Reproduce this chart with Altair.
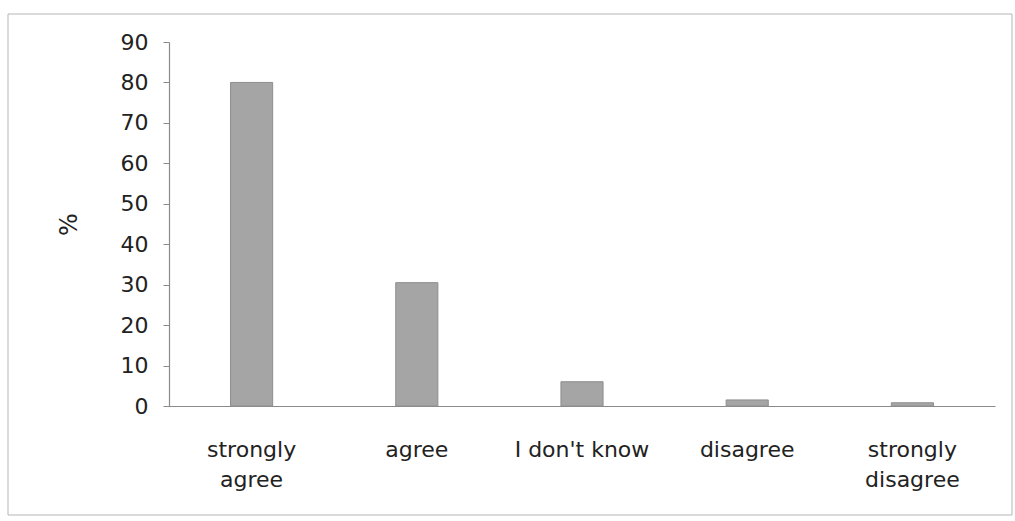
import altair as alt
import pandas as pd

categories = ["strongly agree", "agree", "I don't know", "disagree", "strongly disagree"]
values = [80, 30.5, 6, 1.5, 0.8]
y_ticks = [0, 10, 20, 30, 40, 50, 60, 70, 80, 90]

df = pd.DataFrame({"answer": categories, "pct": values})

FONT = "DejaVu Sans"
W, H = 826, 364

bars = alt.Chart(df).mark_bar(color="#a5a5a5", stroke="#8e8e8e", strokeWidth=1).encode(
    x=alt.X("answer:N", sort=categories, title=None,
            scale=alt.Scale(paddingInner=0.745, paddingOuter=0.3725),
            axis=alt.Axis(labelAngle=0, ticks=False, domainColor="#8a8a8a", domainWidth=1.2,
                          labelFont=FONT, labelFontSize=22, labelColor="#222222",
                          labelBaseline="top", labelPadding=33, labelLineHeight=30,
                          labelLimit=200,
                          labelExpr="indexof(datum.label, 'strongly') == 0 ? split(datum.label, ' ') : datum.label")),
    y=alt.Y("pct:Q", title="%",
            scale=alt.Scale(domain=[0, 90], nice=False),
            axis=alt.Axis(values=y_ticks, grid=False, domainColor="#8a8a8a", domainWidth=1.2,
                          tickColor="#8a8a8a", tickSize=6, labelPadding=15,
                          labelFont=FONT, labelFontSize=22, labelColor="#222222",
                          titleFont=FONT, titleFontSize=24, titleFontWeight="normal",
                          titleColor="#222222", titleX=-88, titleY=182, titleAngle=270)),
)

border_df = pd.DataFrame({"k": [0]})
border = alt.Chart(border_df).mark_rect(fill=None, stroke="#b5b5b5", strokeWidth=1).encode(
    x=alt.value(-161), x2=alt.value(843), y=alt.value(-28), y2=alt.value(473)
)

chart = alt.layer(border, bars).properties(
    width=W, height=H,
    padding={"left": 169, "top": 42, "right": 20, "bottom": 115},
    autosize=alt.AutoSizeParams(type="none"),
    background="white",
).configure_view(stroke=None)

chart.save("out.html", embed_options={"renderer": "svg", "actions": False})
